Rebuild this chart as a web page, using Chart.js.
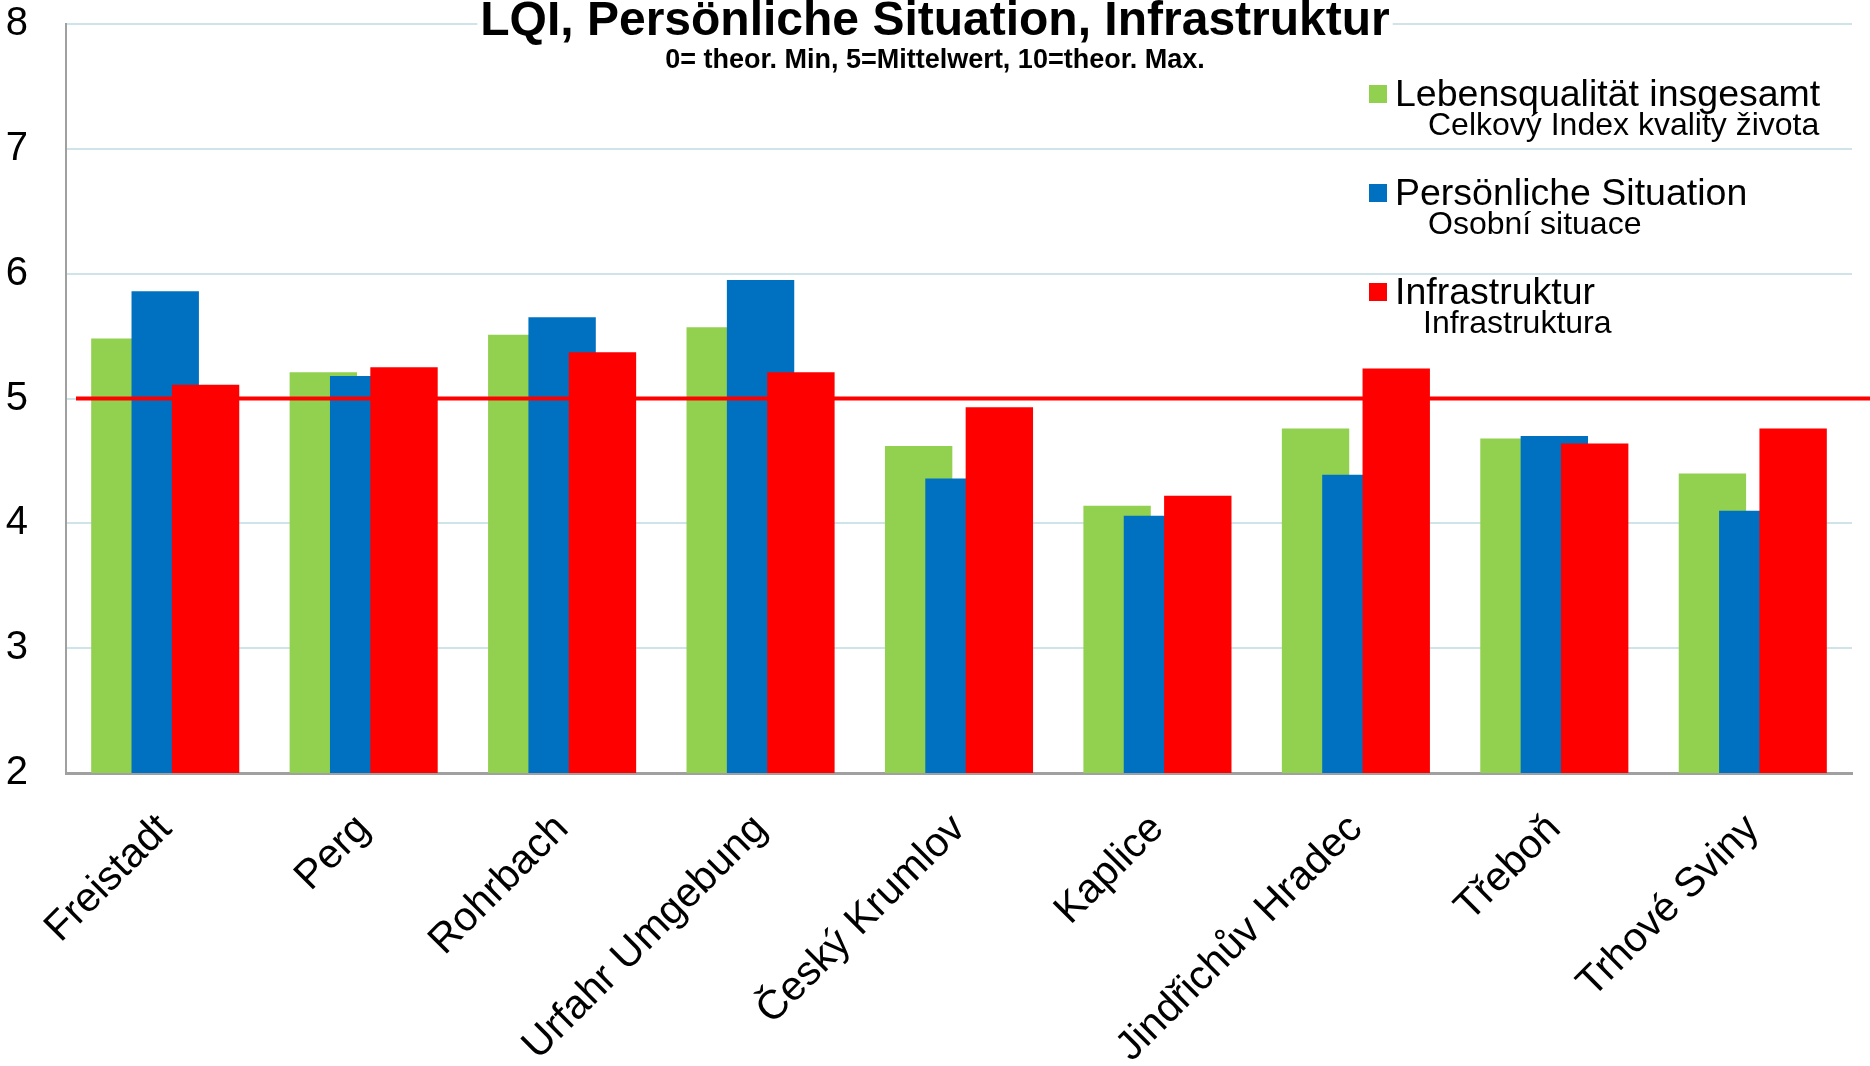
<!DOCTYPE html>
<html>
<head>
<meta charset="utf-8">
<title>LQI, Persönliche Situation, Infrastruktur</title>
<script src="https://cdn.jsdelivr.net/npm/chart.js@4.4.1/dist/chart.umd.min.js"></script>
<style>
  html, body { margin: 0; padding: 0; background: #ffffff; }
  #wrap { width: 1870px; height: 1066px; position: relative; }
</style>
</head>
<body>
<div id="wrap"><canvas id="lqiChart"></canvas></div>
<script>
// Daten
const regions = ['Freistadt', 'Perg', 'Rohrbach', 'Urfahr Umgebung', 'Český Krumlov', 'Kaplice', 'Jindřichův Hradec', 'Třeboň', 'Trhové Sviny'];
const lebensqualitaet = [5.48, 5.21, 5.51, 5.57, 4.62, 4.14, 4.76, 4.68, 4.40];
const persoenlich = [5.86, 5.18, 5.65, 5.95, 4.36, 4.06, 4.39, 4.70, 4.10];
const infrastruktur = [5.11, 5.25, 5.37, 5.21, 4.93, 4.22, 5.24, 4.64, 4.76];
const seriesNames = ['Lebensqualität insgesamt', 'Persönliche Situation', 'Infrastruktur'];
const seriesNamesCz = ['Celkový Index kvality života', 'Osobní situace', 'Infrastruktura'];
const yTicks = [2, 3, 4, 5, 6, 7, 8];
const mittelwert = 5;
const titleText = 'LQI, Persönliche Situation, Infrastruktur';
const subtitleText = '0= theor. Min, 5=Mittelwert, 10=theor. Max.';

const FONT = '"Liberation Sans", Arial, sans-serif';

// Mittelwert-Linie
function drawMeanLine(chart) {
  const { ctx, chartArea, scales } = chart;
  const y = scales.y.getPixelForValue(mittelwert);
  ctx.save();
  ctx.strokeStyle = '#ff0000';
  ctx.lineWidth = 4;
  ctx.beginPath();
  ctx.moveTo(chartArea.left + 10, y);
  ctx.lineTo(chart.width, y);
  ctx.stroke();
  ctx.restore();
}

// Balken in Reihenfolge zeichnen (rechter Balken liegt oben), dann die Linie
const drawOrder = {
  id: 'drawOrder',
  beforeDatasetsDraw(chart) {
    const { ctx, chartArea: a } = chart;
    ctx.save();
    ctx.beginPath();
    ctx.rect(a.left, a.top, a.right - a.left, a.bottom - a.top);
    ctx.clip();
    chart.data.datasets.forEach((ds, i) => {
      const meta = chart.getDatasetMeta(i);
      if (meta.visible) meta.controller.draw();
    });
    ctx.restore();
    drawMeanLine(chart);
    return false;
  }
};

// Titel + Legende
const overlay = {
  id: 'overlay',
  afterDraw(chart) {
    const ctx = chart.ctx;
    const cx = chart.width / 2;
    ctx.save();
    ctx.font = 'bold 48px ' + FONT;
    const tw = ctx.measureText(titleText).width;
    ctx.fillStyle = '#ffffff';
    ctx.fillRect(cx - tw / 2 - 3, 0, tw + 6, 44);
    ctx.fillStyle = '#000000';
    ctx.textAlign = 'center';
    ctx.textBaseline = 'alphabetic';
    ctx.fillText(titleText, cx, 35);
    ctx.font = 'bold 27px ' + FONT;
    ctx.fillText(subtitleText, cx, 68);

    ctx.textAlign = 'left';
    chart.data.datasets.forEach((ds, i) => {
      const top = 85 + i * 99;
      ctx.fillStyle = ds.backgroundColor;
      ctx.fillRect(1369, top, 18, 18);
      ctx.fillStyle = '#000000';
      ctx.font = '37.5px ' + FONT;
      ctx.fillText(seriesNames[i], 1395, top + 21);
      ctx.font = '32px ' + FONT;
      ctx.fillText(seriesNamesCz[i], i === 2 ? 1423 : 1428, top + 50);
    });
    ctx.restore();
  }
};

const ctx = document.getElementById('lqiChart').getContext('2d');

const lqiChart = new Chart(ctx, {
  type: 'bar',
  data: {
    labels: regions,
    datasets: [
      { label: seriesNames[0], data: lebensqualitaet, backgroundColor: '#92d050' },
      { label: seriesNames[1], data: persoenlich, backgroundColor: '#0070c0' },
      { label: seriesNames[2], data: infrastruktur, backgroundColor: '#ff0000' }
    ]
  },
  options: {
    responsive: true,
    maintainAspectRatio: false,
    animation: false,
    datasets: {
      bar: { categoryPercentage: 0.61, barPercentage: 1.67 }
    },
    layout: { padding: { left: 6, right: 18, top: 0, bottom: 0 } },
    plugins: {
      legend: { display: false },
      title: { display: false },
      tooltip: { enabled: false }
    },
    scales: {
      x: {
        grid: { display: false },
        border: { display: true, color: '#a0a0a0', width: 3 },
        ticks: {
          color: '#000000',
          font: { family: FONT, size: 41 },
          minRotation: 45,
          maxRotation: 45,
          autoSkip: false,
          padding: 24
        },
        afterFit: s => {
          s.height = 293;
          s.paddingLeft = 0;
          s.paddingRight = 0;
          s.paddingTop = 0;
          s.paddingBottom = 0;
        }
      },
      y: {
        min: 2,
        max: 8,
        afterBuildTicks: axis => { axis.ticks = yTicks.map(v => ({ value: v })); },
        grid: { color: '#cfe4e8', lineWidth: 2, drawTicks: false },
        border: { display: true, color: '#a0a0a0', width: 2 },
        ticks: {
          color: '#000000',
          font: { family: FONT, size: 40 },
          padding: 38
        },
        afterFit: s => {
          s.width = 60;
          s.paddingTop = 24;
          s.paddingBottom = 0;
        }
      }
    }
  },
  plugins: [drawOrder, overlay]
});
</script>
</body>
</html>
